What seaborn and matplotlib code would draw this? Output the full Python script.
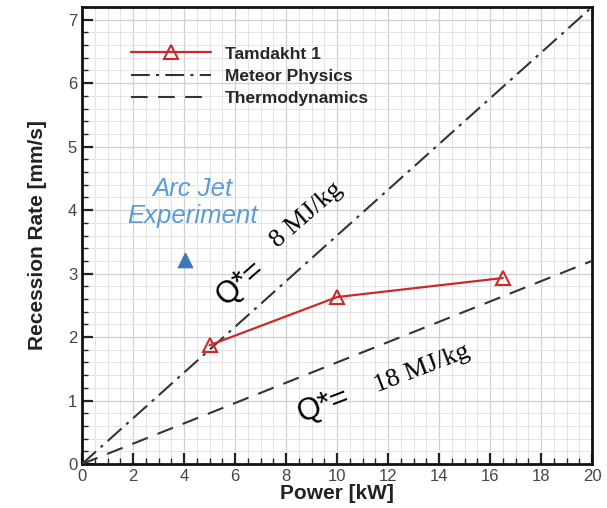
import matplotlib
matplotlib.use("Agg")
import matplotlib.pyplot as plt
import seaborn as sns
import pandas as pd
import numpy as np
from matplotlib.ticker import MultipleLocator

# ---- data ----
tam_power = [5.0, 10.0, 16.5]
tam_rate = [1.87, 2.63, 2.93]
meteor_power = [0.0, 20.0]
meteor_rate = [0.0, 7.2]
thermo_power = [0.0, 20.0]
thermo_rate = [0.0, 3.2]
arcjet_power = [4.05]
arcjet_rate = [3.21]

sns.set_theme(style="white")
plt.rcParams['font.family'] = ['Liberation Sans', 'DejaVu Sans']

fig = plt.figure(figsize=(6.07, 5.08), dpi=100)
ax = fig.add_axes([82/607, 1-464/508, 510/607, 457/508])

red = "#cc2a2a"
df_tam = pd.DataFrame({"Power": tam_power, "Rate": tam_rate})
df_met = pd.DataFrame({"Power": meteor_power, "Rate": meteor_rate})
df_thr = pd.DataFrame({"Power": thermo_power, "Rate": thermo_rate})
df_arc = pd.DataFrame({"Power": arcjet_power, "Rate": arcjet_rate})

sns.lineplot(data=df_tam, x="Power", y="Rate", ax=ax, color=red, lw=1.6,
             marker="^", markersize=10, markerfacecolor="none",
             markeredgecolor=red, markeredgewidth=1.5, label="Tamdakht 1", zorder=5)
sns.lineplot(data=df_met, x="Power", y="Rate", ax=ax, color="#333333", lw=1.5,
             dashes=False, label="Meteor Physics", zorder=4)
ax.lines[-1].set_dashes((9, 3, 1.5, 3))
sns.lineplot(data=df_thr, x="Power", y="Rate", ax=ax, color="#333333", lw=1.5,
             label="Thermodynamics", zorder=4)
ax.lines[-1].set_dashes((8, 5))
sns.scatterplot(data=df_arc, x="Power", y="Rate", ax=ax, marker="^", s=110,
                color="#3d78b8", edgecolor="#3d78b8", zorder=6, legend=False)

ax.set_xlim(0, 20)
ax.set_ylim(0, 7.2)
ax.xaxis.set_major_locator(MultipleLocator(2))
ax.xaxis.set_minor_locator(MultipleLocator(0.5))
ax.yaxis.set_major_locator(MultipleLocator(1))
ax.yaxis.set_minor_locator(MultipleLocator(0.2))
ax.grid(which="major", color="#d0d0d0", lw=0.9)
ax.grid(which="minor", color="#e4e4e4", lw=0.7)
ax.set_axisbelow(True)
ax.tick_params(which="both", direction="in", bottom=True, left=True,
               top=False, right=False, colors="#222222", labelcolor="#444444",
               labelsize=12)
ax.tick_params(which="major", length=8, width=1.6)
ax.tick_params(which="minor", length=4, width=1.0)
for s in ax.spines.values():
    s.set_color("#111111")
    s.set_linewidth(2)

ax.set_xlabel("Power [kW]", fontsize=15, fontweight="bold", color="#222222", labelpad=0)
ax.set_ylabel("Recession Rate [mm/s]", fontsize=15, fontweight="bold", color="#222222", labelpad=15)

leg = ax.legend(loc="upper left", bbox_to_anchor=(0.066, 0.948), frameon=False,
                handlelength=4.6, prop={"weight": "bold", "size": 12.5},
                labelspacing=0.42, handletextpad=0.8)

ax.text(4.33, 4.12, "Arc Jet\nExperiment", fontsize=18.5, style="italic",
        color="#5b9bd8", ha="center", va="center", linespacing=1.2)

ax.text(6.2, 2.85, "Q*=", fontsize=22, rotation=41, ha="center", va="center",
        rotation_mode="anchor", color="black")
ax.text(8.8, 3.92, "8 MJ/kg", fontsize=19, rotation=41, ha="center", va="center",
        rotation_mode="anchor", family="Liberation Serif", color="black")
ax.text(9.45, 0.93, "Q*=", fontsize=22, rotation=21, ha="center", va="center",
        rotation_mode="anchor", color="black")
ax.text(13.35, 1.5, "18 MJ/kg", fontsize=19, rotation=21, ha="center", va="center",
        rotation_mode="anchor", family="Liberation Serif", color="black")

fig.savefig("out.png", dpi=100)
